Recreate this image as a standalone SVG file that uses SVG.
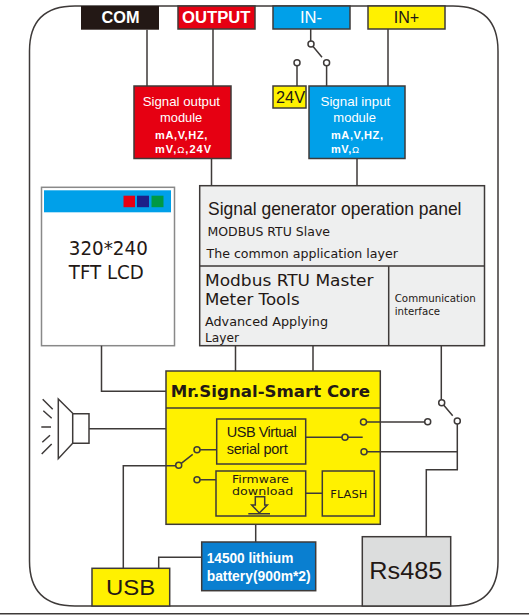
<svg xmlns="http://www.w3.org/2000/svg" width="529" height="615" viewBox="0 0 529 615">
<style>
.l{fill:none;stroke:#3e3a39;stroke-width:1.5}
.b{stroke:#3e3a39;stroke-width:1.5}
.c{fill:#fff;stroke:#3e3a39;stroke-width:1.5}
.cy{fill:#fff100;stroke:#3e3a39;stroke-width:1.5}
text{font-family:"Liberation Sans",Arial,sans-serif;fill:#231815}
.d{font-family:"DejaVu Sans",sans-serif}
.w{fill:#fff}
.o{fill:#fff;font-weight:normal;font-size:9.500px}
</style>
<path id="frame" class="l" d="M75 6H453Q498 6 498 51V561Q498 606 453 606H75Q29.500 606 29.500 561V51Q29.500 6 75 6Z"/>
<path id="rule" class="l" d="M0 613.700H529"/>
<g id="com"><rect x="81" y="6" width="78" height="23.700" fill="#231815"/><text class="w" x="101.500" y="23.300" font-size="16" font-weight="bold" textLength="38" lengthAdjust="spacingAndGlyphs">COM</text></g>
<g id="output"><rect class="b" x="178" y="6" width="77" height="23" fill="#e60012"/><text class="w" x="182" y="23.300" font-size="16" font-weight="bold" textLength="68.500" lengthAdjust="spacingAndGlyphs">OUTPUT</text></g>
<g id="in-minus"><rect class="b" x="273" y="6" width="77" height="23" fill="#00a0e9"/><text class="w" x="300" y="23.300" font-size="16.500" textLength="22" lengthAdjust="spacingAndGlyphs">IN-</text></g>
<g id="in-plus"><rect class="b" x="368" y="6" width="77" height="23" fill="#fff100"/><text x="393.700" y="23.300" font-size="16.500" textLength="25.500" lengthAdjust="spacingAndGlyphs">IN+</text></g>
<g id="output-module"><rect class="b" x="134" y="86" width="97" height="72.500" fill="#e60012"/>
<text class="w" x="142.700" y="106.200" font-size="13.500" textLength="77.300" lengthAdjust="spacingAndGlyphs">Signal output</text><text class="w" x="160" y="122" font-size="13.500" textLength="42.300" lengthAdjust="spacingAndGlyphs">module</text>
<text class="w" x="155" y="139" font-size="11" font-weight="bold" textLength="52.300" lengthAdjust="spacing">mA,V,HZ,</text><text class="w" x="155" y="152.700" font-size="11" font-weight="bold" textLength="56" lengthAdjust="spacing">mV,<tspan class="o">Ω</tspan>,24V</text></g>
<g id="v24"><rect class="b" x="273" y="86" width="33" height="22" fill="#fff100"/><text x="276" y="103.300" font-size="16" textLength="29" lengthAdjust="spacingAndGlyphs">24V</text></g>
<g id="input-module"><rect class="b" x="309" y="86" width="96" height="72.500" fill="#00a0e9"/>
<text class="w" x="320.500" y="106.200" font-size="13.500" textLength="69.800" lengthAdjust="spacingAndGlyphs">Signal input</text><text class="w" x="333.300" y="122" font-size="13.500" textLength="42.700" lengthAdjust="spacingAndGlyphs">module</text>
<text class="w" x="331" y="138.500" font-size="11" font-weight="bold" textLength="52" lengthAdjust="spacing">mA,V,HZ,</text><text class="w" x="331" y="152.700" font-size="11" font-weight="bold" textLength="28" lengthAdjust="spacing">mV,<tspan class="o">Ω</tspan></text></g>
<g id="lcd"><rect x="41.500" y="187.300" width="133" height="158.400" fill="#fff" stroke="#898989" stroke-width="1.500"/>
<rect x="44" y="190.300" width="127" height="22" fill="#00a0e9"/>
<rect x="123.500" y="195.700" width="11.500" height="11.500" fill="#e60012"/><rect x="137" y="195.700" width="12" height="11.500" fill="#1d2088"/><rect x="151.500" y="195.700" width="12" height="11.500" fill="#009944"/>
<text class="d" x="68.800" y="255" font-size="19" textLength="79" lengthAdjust="spacingAndGlyphs">320*240</text><text class="d" x="68.800" y="278.700" font-size="19" textLength="75" lengthAdjust="spacingAndGlyphs">TFT LCD</text></g>
<g id="panel"><rect class="b" x="199.700" y="185.700" width="284.800" height="160" fill="#eeefef"/><path class="l" d="M199.700 266H484.500M388.700 266V345.700"/>
<text x="208" y="215" font-size="19" textLength="253.500" lengthAdjust="spacingAndGlyphs">Signal generator operation panel</text>
<text class="d" x="207.500" y="236" font-size="12.500" textLength="122.500" lengthAdjust="spacingAndGlyphs">MODBUS RTU Slave</text>
<text class="d" x="206.500" y="257.700" font-size="12.500" textLength="191.500" lengthAdjust="spacingAndGlyphs">The common application layer</text>
<text class="d" x="205" y="286" font-size="16.500" textLength="168.500" lengthAdjust="spacingAndGlyphs">Modbus RTU Master</text>
<text class="d" x="205" y="305" font-size="16.500" textLength="94.600" lengthAdjust="spacingAndGlyphs">Meter Tools</text>
<text class="d" x="205" y="326" font-size="12.500" textLength="123" lengthAdjust="spacingAndGlyphs">Advanced Applying</text>
<text class="d" x="205" y="341.700" font-size="12.500" textLength="34" lengthAdjust="spacingAndGlyphs">Layer</text>
<text class="d" x="394.700" y="302" font-size="10" textLength="81" lengthAdjust="spacingAndGlyphs">Communication</text>
<text class="d" x="394.700" y="314.700" font-size="10" textLength="45.300" lengthAdjust="spacingAndGlyphs">interface</text></g>
<g id="core"><rect class="b" x="166" y="371" width="214.300" height="153.300" fill="#fff100"/><path class="l" d="M166 408H380.300"/>
<text class="d" x="170.700" y="397.300" font-size="16.500" font-weight="bold" textLength="199.300" lengthAdjust="spacingAndGlyphs">Mr.Signal-Smart Core</text></g>
<g id="usb-virtual"><rect class="b" x="216.700" y="419" width="89" height="45" fill="none"/><text x="226.700" y="437" font-size="14.500" textLength="70" lengthAdjust="spacing">USB  Virtual</text><text x="226.700" y="454" font-size="14.500" textLength="61" lengthAdjust="spacing">serial  port</text></g>
<g id="firmware"><rect class="b" x="216" y="471" width="89.700" height="45" fill="none"/><text class="d" x="232" y="483.300" font-size="11" textLength="57" lengthAdjust="spacingAndGlyphs">Firmware</text><text class="d" x="232" y="495" font-size="11" textLength="61.300" lengthAdjust="spacingAndGlyphs">download</text>
<path class="l" d="M255.300 496.700H264.700V505H267.300L259.300 513L251.700 505H255.300ZM248.300 513.700H270"/></g>
<g id="flash"><rect class="b" x="322.300" y="471" width="52" height="45" fill="none"/><text class="d" x="330.300" y="497.700" font-size="10.500" textLength="37" lengthAdjust="spacingAndGlyphs">FLASH</text></g>
<g id="speaker"><path class="l" d="M58.300 399L72.700 413.300V443.300L58.300 458.700ZM72.700 413.700H89V443.300H72.700M42.700 399.300L52.700 409.300M43.300 410.700L51.700 418.300M41.300 427H51M42.300 442.300L50 435.300M41.700 454L51.700 444"/></g>
<g id="usb"><rect class="b" x="92" y="568.300" width="77.700" height="37.700" fill="#fff100"/><text x="106" y="595" font-size="22" textLength="49.300" lengthAdjust="spacingAndGlyphs">USB</text></g>
<g id="battery"><rect class="b" x="201.700" y="542" width="114" height="48.700" fill="#0a7fd0"/><text class="w" x="206.700" y="562.700" font-size="14" font-weight="bold" textLength="86.600" lengthAdjust="spacingAndGlyphs">14500 lithium</text><text class="w" x="206.700" y="581" font-size="14" font-weight="bold" textLength="104" lengthAdjust="spacingAndGlyphs">battery(900m*2)</text></g>
<g id="rs485"><rect class="b" x="362.300" y="536.700" width="88.400" height="69.300" fill="#dcdddd"/><text x="369.300" y="579.300" font-size="24" textLength="73" lengthAdjust="spacingAndGlyphs">Rs485</text></g>
<g id="connectors">
<path class="l" d="M147 29.700V86M213 29V86M211.500 158.500V185.700M310.700 29V44M311 44L322 57.300M297 63V86M326.600 63V86M388 29V86M357 158.500V185.700"/>
<path class="l" d="M101.500 345.700V391.300H166M235.500 345.700V371M313 345.700V371M441.300 345.700V402.700M441.700 402.700L452.700 415.700M457.300 421V469.700H426.300V536.700M364 451.700H457.300M363.300 422H427.700"/>
<path class="l" d="M89 428.700H166M123.300 568.300V465.700H178.700M178.700 465.300L192.700 454.300M197 449.700H216.700M197 479.700H216M305.700 437.300H362.700M305.700 493.300H322.300M255.700 524.300V542M158.700 568.300V557.300H201.700"/>
</g>
<g id="terminals"><circle class="c" cx="311" cy="44" r="3"/><circle class="c" cx="297" cy="62.700" r="3"/><circle class="c" cx="326.600" cy="62.700" r="3"/>
<circle class="cy" cx="178.700" cy="465.300" r="3"/><circle class="cy" cx="197" cy="449.700" r="3"/><circle class="cy" cx="197" cy="479.700" r="3"/><circle class="cy" cx="345" cy="437.300" r="3"/><circle class="cy" cx="363.500" cy="422" r="3"/><circle class="cy" cx="364" cy="451.700" r="3"/>
<circle class="c" cx="441.700" cy="402.700" r="3"/><circle class="c" cx="427.700" cy="421.700" r="3"/><circle class="c" cx="457.300" cy="421" r="3"/></g>
</svg>
